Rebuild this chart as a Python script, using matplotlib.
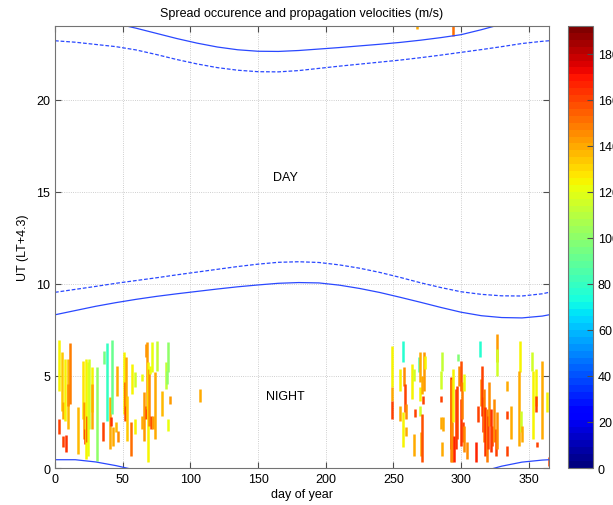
import numpy as np
import matplotlib
matplotlib.use("Agg")
import matplotlib.pyplot as plt
from matplotlib.collections import LineCollection
from matplotlib.colors import Normalize

plt.rcParams['font.family'] = ['Liberation Sans', 'DejaVu Sans']

# sunrise / sunset curves (hours UT)
curve_days = [0, 15, 30, 45, 60, 75, 90, 105, 120, 135, 150, 165, 180, 195, 210, 225, 240, 255,
              270, 285, 300, 315, 330, 345, 360, 365]
rise_solid = [8.32, 8.55, 8.78, 8.98, 9.16, 9.32, 9.46, 9.59, 9.72, 9.84, 9.94, 10.03, 10.07, 10.05,
              9.93, 9.75, 9.53, 9.27, 9.00, 8.72, 8.46, 8.27, 8.17, 8.15, 8.25, 8.32]
rise_dash = [9.54, 9.70, 9.86, 10.03, 10.18, 10.33, 10.49, 10.64, 10.79, 10.94, 11.07, 11.17, 11.20,
             11.16, 11.03, 10.85, 10.62, 10.35, 10.06, 9.80, 9.57, 9.43, 9.35, 9.34, 9.46, 9.54]
set_solid = [24.45, 24.45, 24.33, 24.13, 23.88, 23.60, 23.32, 23.07, 22.86, 22.71, 22.63, 22.62, 22.67,
             22.75, 22.83, 22.92, 23.01, 23.11, 23.23, 23.37, 23.53, 23.80, 24.10, 24.32, 24.43, 24.45]
set_dash = [23.20, 23.12, 23.00, 22.88, 22.70, 22.45, 22.18, 21.94, 21.74, 21.60, 21.52, 21.51, 21.58,
            21.70, 21.82, 21.93, 22.04, 22.15, 22.28, 22.42, 22.57, 22.72, 22.88, 23.05, 23.17, 23.20]

# spread events: day, start hour, end hour, velocity (m/s)
seg_day = [3.0, 3.0, 5.2, 5.7, 6.2, 7.4, 7.9, 9.4, 9.9, 11.1, 17.3, 21.0, 21.4, 22.2, 22.9, 23.4, 24.4,
           25.4, 27.1, 27.6, 30.8, 35.7, 36.2, 38.7, 40.7, 41.4, 41.9, 43.1, 45.1, 46.8, 46.1, 51.0, 51.8,
           52.5, 53.0, 56.0, 56.7, 58.9, 59.2, 64.1, 64.1, 65.8, 67.1, 67.1, 67.8, 68.5, 69.5, 70.3, 71.0,
           71.5, 72.7, 74.0, 75.2, 79.4, 81.9, 82.6, 83.8, 83.8, 85.1, 107.0,
           249.0, 249.0, 249.0, 257.2, 255.2, 255.2, 257.2, 257.7, 258.4, 259.4, 259.6, 264.1, 265.1, 265.8,
           265.1, 268.8, 269.5, 269.5, 269.5, 270.5, 271.2, 271.7, 271.2, 272.5, 273.2, 285.5, 284.8, 286.0,
           285.3, 286.8, 286.0, 292.2, 292.9, 293.6, 294.1, 294.6, 295.9, 297.1, 297.8, 298.6, 299.6, 300.3,
           300.8, 301.5, 302.5, 302.5, 304.5, 310.7, 312.6, 313.9, 314.4, 315.6, 316.3, 316.8, 317.6, 318.8,
           319.8, 320.5, 321.8, 322.5, 324.2, 325.5, 326.2, 326.7, 326.2, 334.1, 334.1, 334.1, 336.6, 343.5,
           342.7, 344.4, 345.2, 352.6, 353.3, 355.0, 355.0, 356.3, 359.5, 363.7, 364.9,
           293.9, 267.5]
seg_lo = [4.20, 1.85, 3.11, 1.12, 2.66, 2.57, 0.85, 2.12, 3.38, 3.47, 0.76, 2.66, 1.57, 1.30, 0.49, 1.39, 0.67,
          2.12, 3.02, 2.12, 0.40, 1.48, 5.65, 2.57, 1.03, 2.30, 2.93, 1.21, 1.94, 1.39, 3.93, 2.93, 2.57,
          3.38, 1.48, 0.67, 4.02, 4.38, 1.85, 4.74, 2.12, 1.48, 6.01, 2.66, 3.20, 0.31, 2.30, 5.10, 2.12,
          5.19, 2.12, 1.57, 5.28, 2.84, 4.29, 4.56, 5.19, 2.03, 3.47, 3.60,
          4.38, 3.66, 2.66, 5.74, 4.20, 2.57, 1.12, 4.47, 3.02, 2.66, 1.76, 3.75, 4.74, 2.75,
          0.67, 5.19, 4.65, 3.66, 2.84, 0.67, 4.02, 3.47, 0.31, 4.20, 5.37, 3.56, 4.29, 5.28,
          2.12, 2.03, 0.67, 1.03, 0.31, 0.31, 2.48, 0.31, 1.03, 1.57, 5.83, 4.47, 4.20, 1.21,
          2.66, 1.39, 4.20, 0.85, 0.49, 0.31, 2.48, 6.01, 3.38, 2.84, 1.94, 1.39, 0.67, 0.31,
          1.03, 2.30, 0.85, 1.21, 1.39, 0.67, 5.74, 5.01, 1.03, 4.20, 2.66, 0.67, 1.57, 5.19,
          1.21, 1.94, 1.39, 5.28, 1.57, 3.38, 3.02, 1.12, 1.57, 3.02, 0.13,
          23.45, 23.85]
seg_hi = [6.95, 2.66, 6.28, 1.76, 3.56, 5.92, 1.79, 5.92, 4.56, 6.77, 3.29, 5.79, 3.56, 2.12, 5.92, 2.84, 5.74,
          5.92, 5.47, 4.56, 5.47, 2.48, 6.37, 6.79, 3.84, 2.75, 6.95, 2.21, 2.48, 2.03, 5.56, 6.28, 4.65,
          6.01, 3.93, 2.48, 5.65, 5.19, 2.66, 5.10, 2.84, 4.11, 6.73, 3.38, 6.82, 5.74, 5.37, 5.56, 2.84,
          6.82, 2.84, 5.19, 6.91, 4.20, 5.74, 5.28, 6.82, 2.66, 3.93, 4.30,
          6.64, 4.38, 3.66, 6.91, 5.37, 3.38, 3.02, 5.47, 4.56, 3.47, 2.21, 5.65, 5.37, 3.20,
          1.85, 6.01, 6.28, 4.38, 3.38, 1.94, 5.01, 3.93, 2.93, 6.28, 6.10, 3.93, 5.28, 6.28,
          2.75, 2.75, 1.39, 4.92, 4.83, 2.48, 5.37, 1.76, 4.29, 4.47, 6.19, 5.56, 5.83, 3.75,
          4.65, 2.48, 5.10, 2.30, 1.39, 1.39, 3.38, 6.91, 4.83, 5.56, 3.84, 4.29, 3.29, 3.20,
          2.84, 4.65, 3.20, 2.30, 3.75, 2.12, 7.27, 6.46, 3.02, 4.74, 3.11, 1.21, 3.38, 6.91,
          5.28, 3.11, 2.30, 6.28, 5.28, 5.37, 3.93, 1.39, 5.83, 4.11, 0.58,
          24.0, 24.0]
seg_vel = [125, 160, 132, 160, 140, 125, 162, 137, 145, 148, 135, 128, 142, 162, 125, 160, 122,
           115, 125, 140, 100, 160, 95, 80, 140, 162, 92, 138, 135, 145, 140, 125, 158,
           140, 132, 152, 125, 115, 125, 122, 140, 142, 145, 158, 142, 125, 145, 122, 158,
           122, 142, 140, 112, 135, 112, 100, 100, 122, 142, 140,
           125, 140, 160, 75, 125, 140, 125, 145, 160, 145, 140, 125, 115, 160,
           140, 85, 140, 125, 115, 140, 140, 160, 158, 142, 125, 160, 115, 112,
           140, 140, 140, 162, 148, 145, 125, 165, 162, 160, 98, 145, 158, 162,
           148, 160, 122, 145, 145, 165, 160, 75, 145, 160, 162, 148, 162, 148,
           160, 145, 162, 160, 145, 160, 142, 115, 145, 140, 160, 160, 140, 125,
           140, 115, 140, 115, 125, 125, 160, 160, 140, 125, 160,
           152, 140]

vmin, vmax = 0, 192
cbar_ticks = [0, 20, 40, 60, 80, 100, 120, 140, 160, 180]

fig = plt.figure(figsize=(6.13, 5.06), dpi=100)
ax = fig.add_axes([0.0897, 0.0731, 0.806, 0.8735])
cax = fig.add_axes([0.9266, 0.0731, 0.0408, 0.8735])

cmap = plt.get_cmap('jet', 64)
norm = Normalize(vmin, vmax)

segs = [[(d, lo), (d, hi)] for d, lo, hi in zip(seg_day, seg_lo, seg_hi)]
lc = LineCollection(segs, cmap=cmap, norm=norm, linewidths=1.8)
lc.set_array(np.array(seg_vel))
ax.add_collection(lc)

blue = '#2a48ff'
ax.plot(curve_days, rise_solid, '-', color=blue, lw=0.9)
ax.plot(curve_days, rise_dash, '--', color=blue, lw=0.9, dashes=(3, 1.5))
ax.plot(curve_days, set_solid, '-', color=blue, lw=0.9)
ax.plot(curve_days, np.array(set_solid) - 24, '-', color=blue, lw=0.9)
ax.plot(curve_days, set_dash, '--', color=blue, lw=0.9, dashes=(3, 1.5))

ax.text(170, 15.8, 'DAY', ha='center', va='center', fontsize=9)
ax.text(170, 3.9, 'NIGHT', ha='center', va='center', fontsize=9)

ax.set_xlim(0, 365)
ax.set_ylim(0, 24)
ax.set_xticks(range(0, 351, 50))
ax.set_yticks([0, 5, 10, 15, 20])
ax.grid(True, linestyle=':', color='0.75', lw=0.6)
ax.tick_params(direction='in', top=True, right=True, length=4, labelsize=9, color='0.3')
for s in ax.spines.values():
    s.set_color('0.45')
ax.set_xlabel('day of year', fontsize=9, labelpad=2)
ax.set_ylabel('UT (LT+4.3)', fontsize=9, labelpad=5)
ax.set_title('Spread occurence and propagation velocities (m/s)', fontsize=9, pad=7)

cb = fig.colorbar(plt.cm.ScalarMappable(norm=norm, cmap=cmap), cax=cax, ticks=cbar_ticks)
cb.ax.tick_params(direction='in', length=4, labelsize=9, color='0.3')
cb.outline.set_edgecolor('0.45')

fig.savefig('out.png', dpi=100)
